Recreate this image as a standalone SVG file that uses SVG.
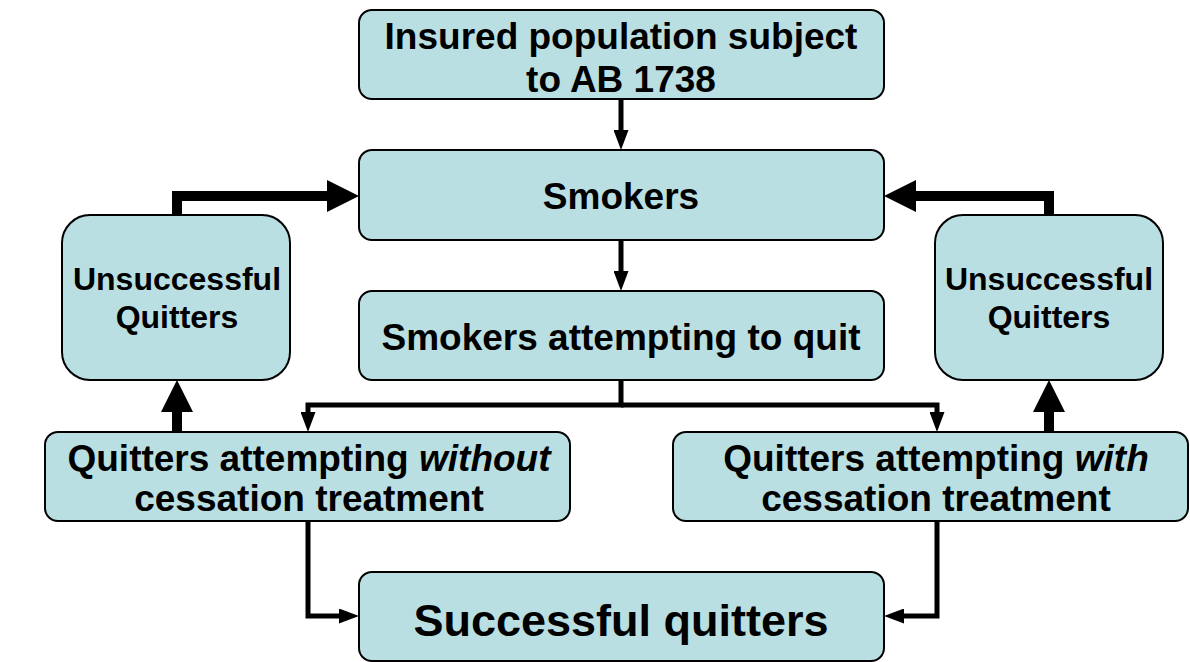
<svg xmlns="http://www.w3.org/2000/svg" width="1190" height="662" viewBox="0 0 1190 662">
<style>
.box{fill:#BADFE2;stroke:#000;stroke-width:2}
.t{font-family:"Liberation Sans",Arial,sans-serif;font-weight:bold;fill:#000;text-anchor:middle}
.thin{fill:none;stroke:#000;stroke-width:5;stroke-linejoin:miter}
.thick{fill:none;stroke:#000;stroke-width:10;stroke-linejoin:miter}
</style>
<defs>
<marker id="ah" markerUnits="userSpaceOnUse" markerWidth="20" markerHeight="15" refX="9" refY="7.5" orient="auto"><path d="M0,0 L20,7.5 L0,15 z" fill="#000"/></marker>
<marker id="ahb" markerUnits="userSpaceOnUse" markerWidth="32" markerHeight="32" refX="18" refY="16" orient="auto"><path d="M0,0 L32,16 L0,32 z" fill="#000"/></marker>
</defs>
<rect width="1190" height="662" fill="#fff"/>
<g id="connectors">
<path class="thin" d="M621,99 V139" marker-end="url(#ah)"/>
<path class="thin" d="M621,240 V280" marker-end="url(#ah)"/>
<path class="thin" d="M621,380 V405 H308 V421" marker-end="url(#ah)"/>
<path class="thin" d="M621,405 H937 V421" marker-end="url(#ah)"/>
<path class="thin" d="M308,521 V616 H348" marker-end="url(#ah)"/>
<path class="thin" d="M937,521 V616 H895" marker-end="url(#ah)"/>
<path class="thick" d="M177,215 V196 H345" marker-end="url(#ahb)"/>
<path class="thick" d="M1049,215 V196 H898" marker-end="url(#ahb)"/>
<path class="thick" d="M177,432 V394" marker-end="url(#ahb)"/>
<path class="thick" d="M1049,432 V394" marker-end="url(#ahb)"/>
</g>
<g id="insured">
<rect class="box" x="359" y="10" width="525" height="89" rx="13"/>
<text class="t" x="621" y="49" font-size="37">Insured population subject</text>
<text class="t" x="621" y="92" font-size="37">to AB 1738</text>
</g>
<g id="smokers">
<rect class="box" x="359" y="150" width="525" height="90" rx="13"/>
<text class="t" x="621" y="209" font-size="37">Smokers</text>
</g>
<g id="attempting">
<rect class="box" x="359" y="291" width="525" height="89" rx="13"/>
<text class="t" x="621" y="350" font-size="37">Smokers attempting to quit</text>
</g>
<g id="unsuccessful-left">
<rect class="box" x="62" y="215" width="228" height="165" rx="28"/>
<text class="t" x="177" y="290" font-size="32">Unsuccessful</text>
<text class="t" x="177" y="328" font-size="32">Quitters</text>
</g>
<g id="unsuccessful-right">
<rect class="box" x="935" y="215" width="228" height="165" rx="28"/>
<text class="t" x="1049" y="290" font-size="32">Unsuccessful</text>
<text class="t" x="1049" y="328" font-size="32">Quitters</text>
</g>
<g id="without">
<rect class="box" x="45" y="432" width="525" height="89" rx="13"/>
<text class="t" x="309" y="471" font-size="37">Quitters attempting <tspan font-style="italic">without</tspan></text>
<text class="t" x="309" y="511" font-size="37">cessation treatment</text>
</g>
<g id="with">
<rect class="box" x="673" y="432" width="515" height="89" rx="13"/>
<text class="t" x="936" y="471" font-size="37">Quitters attempting <tspan font-style="italic">with</tspan></text>
<text class="t" x="936" y="511" font-size="37">cessation treatment</text>
</g>
<g id="successful">
<rect class="box" x="359" y="572" width="525" height="89" rx="13"/>
<text class="t" x="621" y="636" font-size="45">Successful quitters</text>
</g>
</svg>
